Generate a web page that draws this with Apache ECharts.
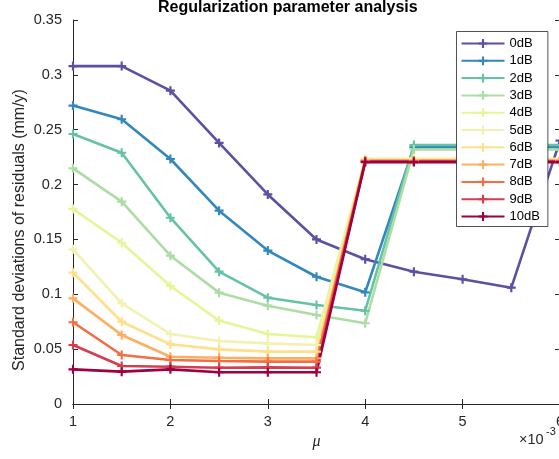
<!DOCTYPE html>
<html>
<head>
<meta charset="utf-8">
<script src="https://cdn.jsdelivr.net/npm/echarts@6/dist/echarts.min.js"></script>
<style>
  html, body { margin: 0; padding: 0; background: #fff; }
  #chart { width: 559px; height: 459px; }
</style>
</head>
<body>
<div id="chart"></div>
<script>
// Regularization parameter mu (in units of 1e-3)
const muValues = [1, 1.5, 2, 2.5, 3, 3.5, 4, 4.5, 5, 5.5, 6];

// Noise levels shown in the legend
const noiseLabels = ['0dB', '1dB', '2dB', '3dB', '4dB', '5dB', '6dB', '7dB', '8dB', '9dB', '10dB'];

// Standard deviation of residuals (mm/y) for each noise level
const std0dB  = [0.308, 0.308, 0.2856, 0.238, 0.191, 0.150, 0.132, 0.1206, 0.1137, 0.106, 0.240];
const std1dB  = [0.272, 0.2595, 0.2233, 0.1762, 0.1398, 0.116, 0.1018, 0.234, 0.234, 0.234, 0.234];
const std2dB  = [0.2461, 0.229, 0.1698, 0.1206, 0.0969, 0.0902, 0.085, 0.236, 0.236, 0.236, 0.236];
const std3dB  = [0.2148, 0.1844, 0.1352, 0.1015, 0.0896, 0.0811, 0.0736, 0.232, 0.232, 0.232, 0.232];
const std4dB  = [0.1778, 0.147, 0.1076, 0.076, 0.0638, 0.0608, 0.2235, 0.2235, 0.2235, 0.2235, 0.2235];
const std5dB  = [0.141, 0.0918, 0.0638, 0.0574, 0.0553, 0.0538, 0.223, 0.223, 0.223, 0.223, 0.223];
const std6dB  = [0.1197, 0.075, 0.0544, 0.0498, 0.0477, 0.0477, 0.2225, 0.2225, 0.2225, 0.2225, 0.2225];
const std7dB  = [0.0963, 0.0629, 0.0431, 0.0422, 0.0416, 0.0416, 0.222, 0.222, 0.222, 0.222, 0.222];
const std8dB  = [0.0745, 0.0447, 0.0401, 0.0392, 0.0386, 0.0386, 0.2215, 0.2215, 0.2215, 0.2215, 0.2215];
const std9dB  = [0.0538, 0.0346, 0.034, 0.0331, 0.0334, 0.0331, 0.221, 0.221, 0.221, 0.221, 0.221];
const std10dB = [0.0316, 0.0295, 0.0316, 0.0289, 0.0289, 0.0289, 0.2205, 0.2205, 0.2205, 0.2205, 0.2205];

const allStd = [std0dB, std1dB, std2dB, std3dB, std4dB, std5dB, std6dB, std7dB, std8dB, std9dB, std10dB];

// Spectral palette, one colour per noise level
const spectral = ['#5e4fa2', '#3288bd', '#66c2a5', '#abdda4', '#e6f598', '#f2f2b0',
                  '#fee08b', '#fdae61', '#f46d43', '#d53e4f', '#9e0142'];

// Filled "+" marker
const plusMarker = 'path://M3.8,0H6.2V3.8H10V6.2H6.2V10H3.8V6.2H0V3.8H3.8Z';

const axisColor = '#262626';
const tickFont = 14.5;

const series = noiseLabels.map((name, i) => ({
  name: name,
  type: 'line',
  data: muValues.map((mu, k) => [mu, allStd[i][k]]),
  symbol: plusMarker,
  symbolSize: 9,
  showSymbol: true,
  lineStyle: { width: 2.6, color: spectral[i] },
  itemStyle: { color: spectral[i] },
  emphasis: { disabled: true },
  z: 2
}));

const baseAxis = {
  axisLine: { show: true, lineStyle: { color: axisColor, width: 1 } },
  axisTick: { show: true, inside: true, length: 5, lineStyle: { color: axisColor, width: 1 } },
  splitLine: { show: false }
};

const chart = echarts.init(document.getElementById('chart'), null, { renderer: 'canvas' });
chart.setOption({
  animation: false,
  backgroundColor: '#fff',
  title: {
    text: 'Regularization parameter analysis',
    left: 158,
    top: -1,
    padding: 0,
    textStyle: { fontFamily: 'Liberation Sans', fontSize: 16, fontWeight: 'bold', color: '#000', lineHeight: 18 }
  },
  grid: { left: 73, right: -1, top: 20, bottom: 55, outerBoundsMode: 'none', containLabel: false },
  legend: {
    orient: 'vertical',
    left: 456.5,
    top: 31.5,
    z: 50,
    padding: [5, 8, 3, 4],
    itemWidth: 43,
    itemHeight: 11,
    itemGap: 3.3,
    backgroundColor: '#fff',
    borderColor: axisColor,
    borderWidth: 0.8,
    borderRadius: 0,
    textStyle: { fontFamily: 'Liberation Sans', fontSize: 13, color: '#000', lineHeight: 14 },
    data: noiseLabels
  },
  xAxis: [
    Object.assign({}, baseAxis, {
      type: 'value', min: 1, max: 6, interval: 1,
      position: 'bottom',
      name: 'μ',
      nameLocation: 'middle',
      nameGap: 26,
      nameTextStyle: { fontFamily: 'Liberation Serif', fontStyle: 'italic', fontSize: 16, color: axisColor },
      axisLabel: { fontFamily: 'Liberation Sans', fontSize: tickFont, color: axisColor, margin: 10,
                   showMinLabel: true, showMaxLabel: true, hideOverlap: false }
    }),
    Object.assign({}, baseAxis, {
      type: 'value', min: 1, max: 6, interval: 1,
      position: 'top', axisLabel: { show: false }
    })
  ],
  yAxis: [
    Object.assign({}, baseAxis, {
      type: 'value', min: 0, max: 0.35, interval: 0.05,
      position: 'left',
      axisLabel: { fontFamily: 'Liberation Sans', fontSize: tickFont, color: axisColor, margin: 11,
                   formatter: v => String(+v.toFixed(2)) }
    }),
    Object.assign({}, baseAxis, {
      type: 'value', min: 0, max: 0.35, interval: 0.05,
      position: 'right', axisLabel: { show: false }
    })
  ],
  graphic: [
    // y-axis title, rotated to read bottom-to-top
    { type: 'text', x: 20, y: 230, rotation: Math.PI / 2,
      style: { text: 'Standard deviations of residuals (mm/y)', fontFamily: 'Liberation Sans',
               fontSize: 16, fill: axisColor, align: 'center', verticalAlign: 'middle' } },
    { type: 'text', left: 519, top: 432,
      style: { text: '×10', fontFamily: 'Liberation Sans', fontSize: 14.5, fill: axisColor } },
    { type: 'text', left: 546, top: 426,
      style: { text: '-3', fontFamily: 'Liberation Sans', fontSize: 11, fill: axisColor } }
  ],
  series: series
});
</script>
</body>
</html>
